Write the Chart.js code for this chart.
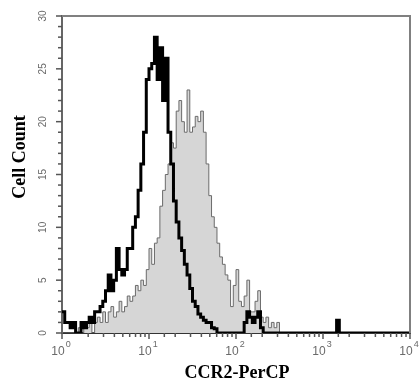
<!DOCTYPE html>
<html>
<head>
<meta charset="utf-8">
<script src="https://cdn.jsdelivr.net/npm/chart.js@4/dist/chart.umd.min.js"></script>
<style>
html,body{margin:0;padding:0;background:#fff;}
canvas{display:block;}
</style>
</head>
<body>
<canvas id="c" width="419" height="383"></canvas>
<script>
// Histogram channels: 32 bins per decade, from 10^0 to 10^4 (128 bins)
const binsPerDecade = 32;

// Isotype control (thick black outline)
const controlCounts = [
  2, 1, 1, 0.5, 1, 0, 0, 1, 0.5, 1,
  1.5, 1, 2, 2, 2.5, 3, 4, 5.5, 4, 5,
  8, 6, 5.5, 6, 8, 8, 10, 11, 13.5, 16,
  19, 24, 25, 25.5, 28, 24, 27, 22, 26, 19,
  16, 12.5, 10.5, 9, 7.8, 6.5, 5.5, 4.2, 3, 2.5,
  1.8, 1.5, 1.2, 1, 1, 0.5, 0.4, 0, 0, 0,
  0, 0, 0, 0, 0, 0, 0, 1, 2, 1.5,
  1, 1.5, 2, 0.5, 0, 0, 0, 0, 0, 0,
  0, 0, 0, 0, 0, 0, 0, 0, 0, 0,
  0, 0, 0, 0, 0, 0, 0, 0, 0, 0,
  0, 1.2, 0, 0, 0, 0, 0, 0, 0, 0,
  0, 0, 0, 0, 0, 0, 0, 0, 0, 0,
  0, 0, 0, 0, 0, 0, 0, 0
];

// CCR2-PerCP stained (grey filled histogram)
const ccr2Counts = [
  0, 0, 0, 0, 0, 0, 0.5, 0, 1, 0.5,
  1, 0, 1, 1.5, 1, 2, 1, 2, 2.5, 1.5,
  2, 3, 2, 2.5, 3.5, 3, 3.5, 4.5, 4, 5,
  4.5, 6, 8, 6.5, 8.5, 9, 12, 13.5, 15, 16,
  18, 17.5, 21, 22, 20, 19, 23, 19, 19.5, 20.5,
  20, 21, 19, 16, 13, 11, 10, 8.5, 7.2, 6.5,
  5.5, 5, 2.5, 4.5, 6, 3, 2.5, 3.5, 5, 2,
  2, 3, 4, 1.5, 1, 1.5, 0.5, 1, 0.5, 1,
  0, 0, 0, 0, 0, 0, 0, 0, 0, 0,
  0, 0, 0, 0, 0, 0, 0, 0, 0, 0,
  0, 0, 0, 0, 0, 0, 0, 0, 0, 0,
  0, 0, 0, 0, 0, 0, 0, 0, 0, 0,
  0, 0, 0, 0, 0, 0, 0, 0
];

const xTickExponents = ['0', '1', '2', '3', '4'];
const yTickLabels = ['0', '5', '10', '15', '20', '25', '30'];
const xTitle = 'CCR2-PerCP';
const yTitle = 'Cell Count';

function toPoints(counts) {
  const pts = counts.map((v, i) => ({ x: Math.pow(10, i / binsPerDecade), y: v }));
  pts.push({ x: Math.pow(10, counts.length / binsPerDecade), y: counts[counts.length - 1] });
  return pts;
}

const axisDecor = {
  id: 'axisDecor',
  afterDraw(chart) {
    const { ctx, chartArea: a, scales: { x, y } } = chart;
    ctx.save();
    // top and right frame
    ctx.strokeStyle = '#808080';
    ctx.lineWidth = 2;
    ctx.beginPath();
    ctx.moveTo(a.left, a.top);
    ctx.lineTo(a.right, a.top);
    ctx.lineTo(a.right, a.bottom);
    ctx.stroke();

    // y tick marks
    ctx.strokeStyle = '#555';
    ctx.lineWidth = 1.5;
    y.ticks.forEach(t => {
      const py = y.getPixelForValue(t.value);
      const len = (t.value % 5 === 0) ? 5 : 3;
      ctx.beginPath();
      ctx.moveTo(a.left - 1 - len, py);
      ctx.lineTo(a.left, py);
      ctx.stroke();
    });
    // x tick marks
    x.ticks.forEach(t => {
      const px = x.getPixelForValue(t.value);
      const lg = Math.log10(t.value);
      const major = Math.abs(lg - Math.round(lg)) < 1e-6;
      ctx.beginPath();
      ctx.moveTo(px, a.bottom);
      ctx.lineTo(px, a.bottom + 1 + (major ? 5 : 3));
      ctx.stroke();
    });

    // y tick labels (rotated)
    ctx.fillStyle = '#6a6a6a';
    ctx.font = '10px "Liberation Sans", Arial, sans-serif';
    ctx.textAlign = 'center';
    ctx.textBaseline = 'middle';
    yTickLabels.forEach(lbl => {
      const py = y.getPixelForValue(Number(lbl));
      ctx.save();
      ctx.translate(a.left - 19, py);
      ctx.rotate(-Math.PI / 2);
      ctx.fillText(lbl, 0, 0);
      ctx.restore();
    });

    // x tick labels 10^n
    ctx.textAlign = 'left';
    xTickExponents.forEach(e => {
      const px = x.getPixelForValue(Math.pow(10, Number(e)));
      ctx.font = '12px "Liberation Sans", Arial, sans-serif';
      const w1 = ctx.measureText('10').width;
      ctx.font = '9px "Liberation Sans", Arial, sans-serif';
      const w2 = ctx.measureText(e).width;
      const start = px - (w1 + w2 + 1) / 2 - 1;
      ctx.font = '12px "Liberation Sans", Arial, sans-serif';
      ctx.fillText('10', start, a.bottom + 19);
      ctx.font = '9px "Liberation Sans", Arial, sans-serif';
      ctx.fillText(e, start + w1 + 1, a.bottom + 12);
    });

    // axis titles
    ctx.fillStyle = '#000';
    ctx.font = 'bold 18px "Liberation Serif", "Times New Roman", serif';
    ctx.textAlign = 'center';
    ctx.textBaseline = 'middle';
    ctx.fillText(xTitle, (a.left + a.right) / 2 + 1, 373);
    ctx.save();
    ctx.translate(20, 157);
    ctx.rotate(-Math.PI / 2);
    ctx.fillText(yTitle, 0, 0);
    ctx.restore();
    ctx.restore();
  }
};

new Chart(document.getElementById('c'), {
  type: 'line',
  data: {
    datasets: [
      {
        label: 'CCR2-PerCP',
        data: toPoints(ccr2Counts),
        stepped: true,
        borderColor: '#6b6b6b',
        borderWidth: 1,
        backgroundColor: '#d6d6d6',
        fill: 'origin',
        pointRadius: 0,
        order: 1
      },
      {
        label: 'Control',
        data: toPoints(controlCounts),
        stepped: true,
        borderColor: '#000',
        borderWidth: 3,
        fill: false,
        pointRadius: 0,
        order: 0
      }
    ]
  },
  options: {
    responsive: false,
    animation: false,
    devicePixelRatio: 1,
    events: [],
    layout: { padding: { top: 16, right: 9, left: 0, bottom: 0 } },
    plugins: { legend: { display: false }, tooltip: { enabled: false } },
    scales: {
      x: {
        type: 'logarithmic',
        min: 1,
        max: 10000,
        grid: { display: false },
        ticks: { display: false },
        border: { display: true, color: '#333', width: 2 },
        afterFit(s) { s.height = 50; }
      },
      y: {
        type: 'linear',
        min: 0,
        max: 30,
        grid: { display: false },
        ticks: { display: false, stepSize: 1 },
        border: { display: true, color: '#666', width: 2 },
        afterFit(s) { s.width = 62; }
      }
    }
  },
  plugins: [axisDecor]
});
</script>
</body>
</html>
